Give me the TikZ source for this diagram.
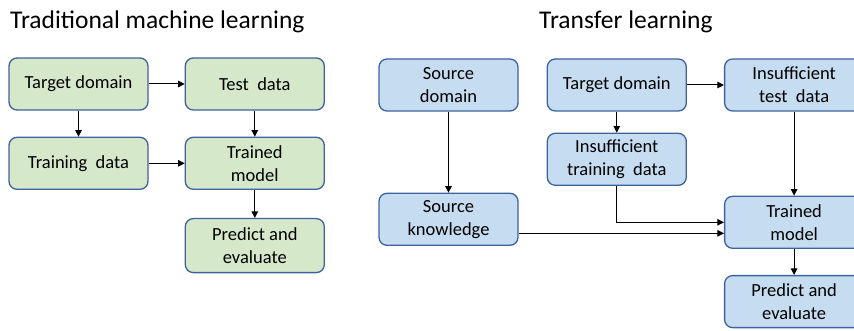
\documentclass[tikz,border=0pt]{standalone}
\usepackage{fontspec}
\setmainfont{Carlito}
\usetikzlibrary{positioning,arrows.meta}

\definecolor{boxline}{HTML}{3E629E}
\definecolor{greenfill}{HTML}{D5E8CA}
\definecolor{bluefill}{HTML}{C6DCF1}

\begin{document}
\begin{tikzpicture}[
    x=1pt, y=-1pt,
    every node/.style={font=\fontsize{18.5}{23}\selectfont},
    title/.style={font=\fontsize{25.5}{30}\selectfont, inner sep=0pt, anchor=west},
    tradbox/.style={draw=boxline, line width=1.3pt, rectangle, rounded corners=8pt,
      minimum width=139pt, minimum height=52pt, text centered, align=center, fill=greenfill},
    transbox/.style={draw=boxline, line width=1.3pt, rectangle, rounded corners=8pt,
      minimum width=139pt, minimum height=52pt, text centered, align=center, fill=bluefill},
    arrow/.style={line width=1pt,-{Triangle[length=6.5pt,width=6.5pt]}}
]
\useasboundingbox (0,0) rectangle (854,331);

% titles
\node (ttrad)  [title] at (10,22) {Traditional machine learning};
\node (ttrans) [title] at (539,22) {Transfer learning};

% traditional machine learning
\node (ltgt)   [tradbox] at (78.5,84) {Target domain};
\node (ltest)  [tradbox, right=36pt of ltgt] {Test\ \ data};
\node (ltrain) [tradbox, below=26pt of ltgt] {Training\ \ data};
\node (lmodel) [tradbox, right=36pt of ltrain] {Trained\\model};
\node (lpred)  [tradbox, below=28pt of lmodel, minimum height=54pt] {Predict and\\evaluate};

\draw [arrow] (ltgt)   -- (ltest);
\draw [arrow] (ltgt)   -- (ltrain);
\draw [arrow] (ltest)  -- (lmodel);
\draw [arrow] (ltrain) -- (lmodel);
\draw [arrow] (lmodel) -- (lpred);

% transfer learning
\node (rsrc)   [transbox] at (448.5,85) {Source\\domain};
\node (rtgt)   [transbox, right=28pt of rsrc] {Target domain};
\node (rtest)  [transbox, right=37pt of rtgt] {Insufficient\\test\ \ data};
\node (rtrain) [transbox, below=21pt of rtgt] {Insufficient\\training\ \ data};
\node (rknow)  [transbox, below=81pt of rsrc] {Source\\knowledge};
\node (rmodel) [transbox, below=84pt of rtest] {Trained\\model};
\node (rpred)  [transbox, below=26pt of rmodel] {Predict and\\evaluate};

\coordinate (kout) at ([yshift=-14pt]rknow.east);

\draw [arrow] (rsrc)   -- (rknow);
\draw [arrow] (rtgt)   -- (rtest);
\draw [arrow] (rtgt)   -- (rtrain);
\draw [arrow] (rtest)  -- (rmodel);
\draw [arrow] (rtrain.south) |- (rmodel.west);
\draw [arrow] (kout)   -- (kout -| rmodel.west);
\draw [arrow] (rmodel) -- (rpred);
\end{tikzpicture}
\end{document}
